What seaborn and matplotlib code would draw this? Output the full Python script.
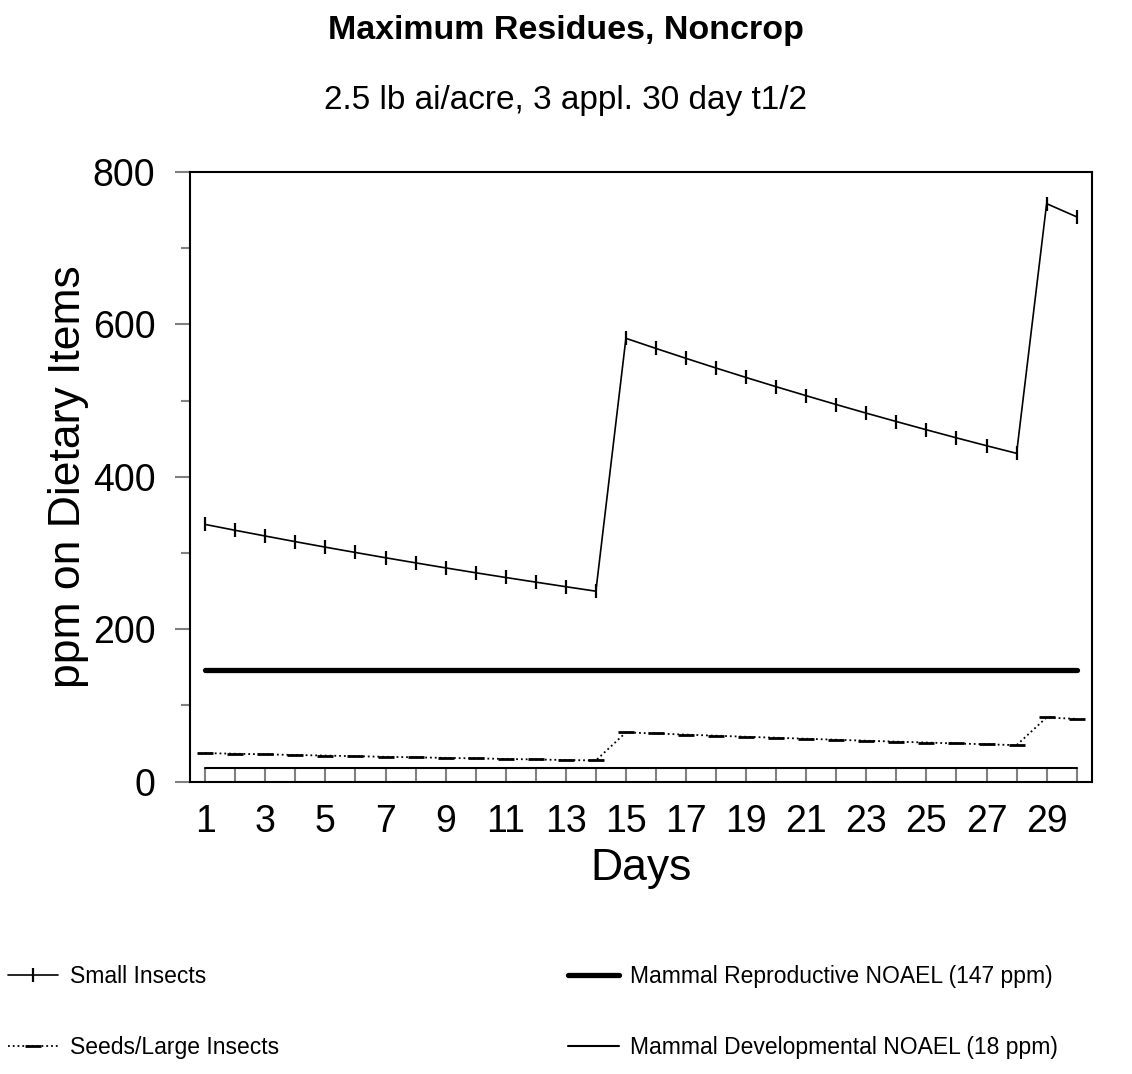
import numpy as np
import pandas as pd
import seaborn as sns
import matplotlib.pyplot as plt

# Data (ppm on dietary items per day)
days = list(range(1, 31))
small_insects = [337.5, 329.8, 322.3, 314.9, 307.7, 300.7, 293.8, 287.1, 280.5, 274.1,
                 267.9, 261.8, 255.8, 249.9, 581.7, 568.4, 555.4, 542.7, 530.3, 518.2,
                 506.4, 494.8, 483.5, 472.5, 461.7, 451.1, 440.8, 430.8, 758.4, 741.1]
seeds_large = [37.5, 36.6, 35.8, 35.0, 34.2, 33.4, 32.6, 31.9, 31.2, 30.5,
               29.8, 29.1, 28.4, 27.8, 64.6, 63.2, 61.7, 60.3, 58.9, 57.6,
               56.3, 55.0, 53.7, 52.5, 51.3, 50.1, 49.0, 47.9, 84.3, 82.3]
repro_noael = 147
dev_noael = 18
x_labels = list(range(1, 30, 2))
y_ticks = [0, 200, 400, 600, 800]
y_minor = [100, 300, 500, 700]

sns.set_style("white")
plt.rcParams['font.family'] = ['Liberation Sans', 'DejaVu Sans']
plt.rcParams['text.color'] = 'black'
plt.rcParams['axes.labelcolor'] = 'black'
plt.rcParams['xtick.labelcolor'] = 'black'
plt.rcParams['ytick.labelcolor'] = 'black'

df = pd.DataFrame({"day": days, "small": small_insects, "seeds": seeds_large,
                   "repro": [repro_noael] * len(days), "dev": [dev_noael] * len(days)})

fig = plt.figure(figsize=(11.32, 10.74), dpi=100)
ax = fig.add_axes([0.168, 0.2722, 0.7964, 0.5677])

sns.lineplot(data=df, x="day", y="small", ax=ax, color="black", lw=1.2,
             marker="|", markersize=10, markeredgewidth=1.6, markeredgecolor="black",
             label="Small Insects")
sns.lineplot(data=df, x="day", y="seeds", ax=ax, color="black", lw=1.3, linestyle=":",
             marker="_", markersize=12, markeredgewidth=2, markeredgecolor="black",
             label="Seeds/Large Insects")
sns.lineplot(data=df, x="day", y="repro", ax=ax, color="black", lw=3.8,
             solid_capstyle="round", label="Mammal Reproductive NOAEL (147 ppm)")
sns.lineplot(data=df, x="day", y="dev", ax=ax, color="black", lw=1.5,
             label="Mammal Developmental NOAEL (18 ppm)")

if ax.get_legend() is not None:
    ax.get_legend().remove()

ax.set_xlim(0.5, 30.5)
ax.set_ylim(0, 800)
ax.set_xticks(x_labels)
ax.set_xticklabels([str(d) for d in x_labels])
ax.set_xticks(days, minor=True)
ax.set_yticks(y_ticks)
ax.set_yticks(y_minor, minor=True)

ax.tick_params(axis="x", which="both", direction="in", length=10, width=1.5,
               color="#808080", bottom=True, labelsize=27, pad=16)
ax.tick_params(axis="y", which="major", direction="out", length=11, width=1.5,
               color="#808080", left=True, labelsize=27, pad=14)
ax.tick_params(axis="y", which="minor", direction="out", length=6.5, width=1.5,
               color="#808080", left=True)

for s in ax.spines.values():
    s.set_visible(True)
    s.set_color("black")
    s.set_linewidth(1.5)

ax.set_xlabel("Days", fontsize=32, labelpad=6)
ax.set_ylabel("ppm on Dietary Items", fontsize=32, labelpad=3)

fig.text(0.5, 1 - 31 / 1074, "Maximum Residues, Noncrop", ha="center", va="center",
         fontsize=24.5, fontweight="bold")
fig.text(0.5, 1 - 100 / 1074, "2.5 lb ai/acre, 3 appl. 30 day t1/2", ha="center",
         va="center", fontsize=24)

handles, labels = ax.get_legend_handles_labels()
fig.legend(handles, labels, loc="upper left", bbox_to_anchor=(0.007, 1 - 965 / 1074),
           ncol=2, frameon=False, fontsize=16.5, handlelength=2.2, handletextpad=0.52,
           columnspacing=12.6, labelspacing=2.1, borderpad=0, borderaxespad=0)

fig.savefig("out.png", dpi=100)
